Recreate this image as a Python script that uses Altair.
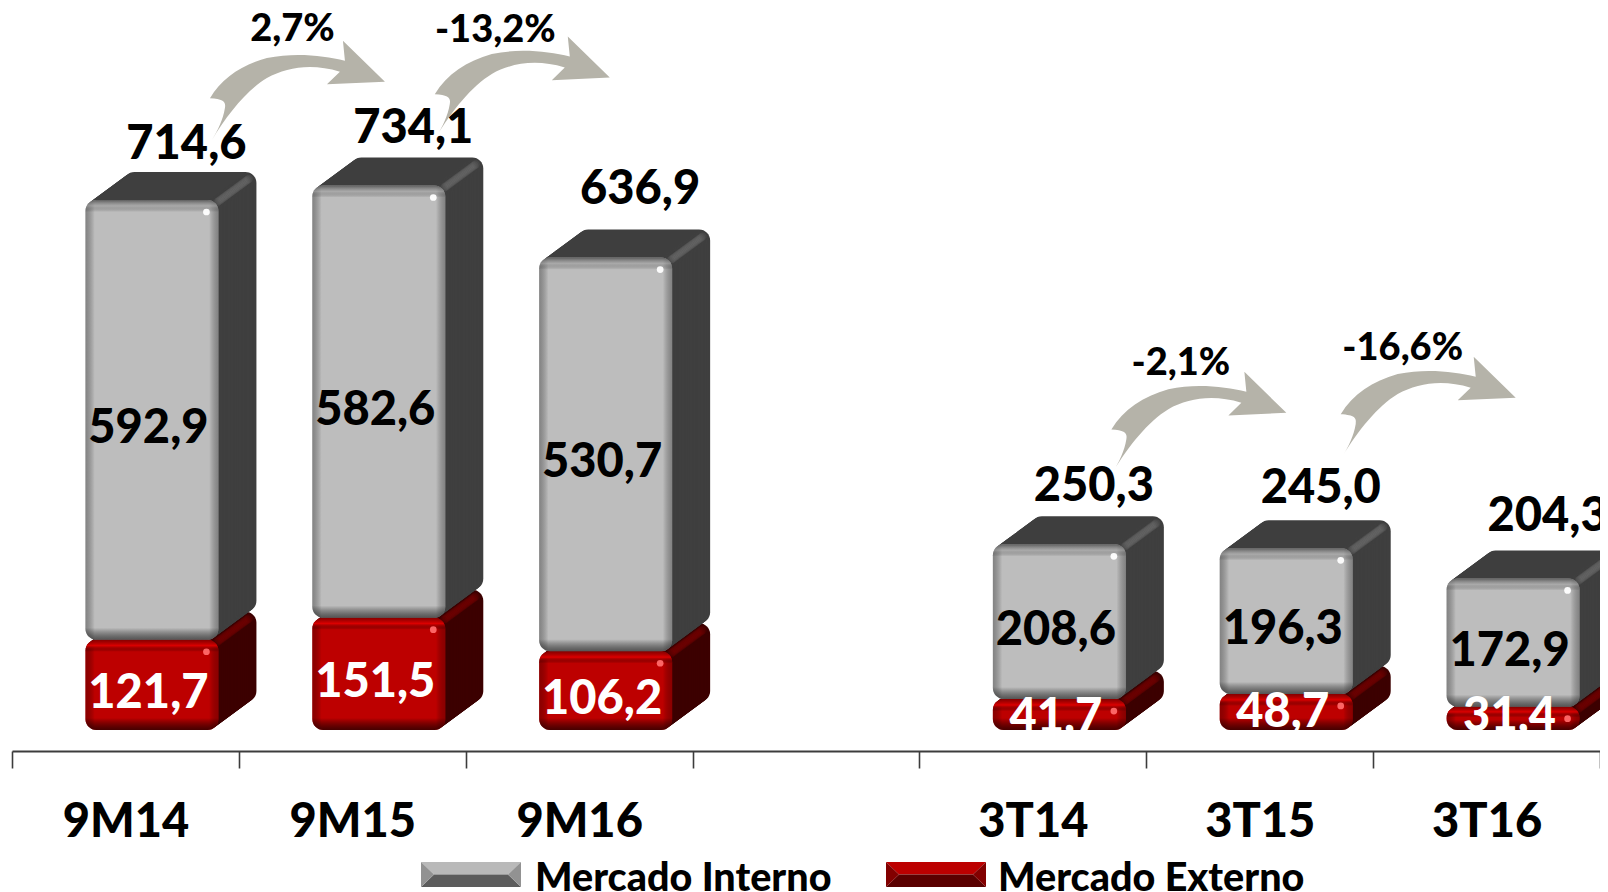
import altair as alt
import pandas as pd

# ---- values ----
categories = ["9M14", "9M15", "9M16", " ", "3T14", "3T15", "3T16"]
bar_cats = ["9M14", "9M15", "9M16", "3T14", "3T15", "3T16"]
externo = [121.7, 151.5, 106.2, 41.7, 48.7, 31.4]
interno = [592.9, 582.6, 530.7, 208.6, 196.3, 172.9]
totals = [714.6, 734.1, 636.9, 250.3, 245.0, 204.3]
total_text = ["714,6", "734,1", "636,9", "250,3", "245,0", "204,3"]
interno_text = ["592,9", "582,6", "530,7", "208,6", "196,3", "172,9"]
externo_text = ["121,7", "151,5", "106,2", "41,7", "48,7", "31,4"]
# heights (in chart units) at which the labels sit
total_label_at = [793, 815, 732, 331, 329, 291]
externo_label_at = [53, 68, 45, 20, 27, 22]
arrow_from = ["9M14", "9M15", "3T14", "3T15"]
arrow_at = [795.5, 801, 349, 369.4]
arrow_text = ["2,7%", "-13,2%", "-2,1%", "-16,6%"]
arrow_text_at = [946, 945, 496, 516]
arrow_shift = [86.5, 84.5, 80.5, 83]
arrow_text_shift = [167, 143, 148, 143]
series = ["Mercado Interno", "Mercado Externo"]

FONT = "Lato"
H = 743
W = 1588
UNIT = 0.7417          # px per unit
BAR_W = 133
SHIFT = 26.5           # bar centre relative to band centre
DEPTH_X, DEPTH_Y = 38, 28
RAD = 11

rows = pd.DataFrame({
    "cat": bar_cats, "ext_top": externo, "int": interno, "tot": totals,
    "t_tot": total_text, "t_int": interno_text, "t_ext": externo_text,
    "tot_at": total_label_at, "ext_at": externo_label_at,
})
rows["int_mid"] = rows["ext_top"] + rows["int"] / 2
rows["base"] = 0.0
long_rows = pd.concat([
    pd.DataFrame({"cat": bar_cats, "serie": series[1], "lo": [0.0] * 6, "hi": externo}),
    pd.DataFrame({"cat": bar_cats, "serie": series[0], "lo": externo, "hi": totals}),
])

x = alt.X("cat:N",
          sort=categories,
          scale=alt.Scale(domain=categories, paddingInner=0, paddingOuter=0),
          axis=alt.Axis(title=None, labelAngle=0, labelFont=FONT, labelFontWeight=900,
                        labelFontSize=47, labelColor="#000", labelPadding=31, tickBand="extent",
                        tickSize=17, tickWidth=1.6, tickColor="#3c3c3c", domainColor="#3c3c3c",
                        domainWidth=2.2, grid=False, labelLimit=300))
y_scale = alt.Scale(domain=[(730 - 751) / UNIT, (730 - 8) / UNIT], nice=False, zero=False)
Y = lambda f: alt.Y(f + ":Q", scale=y_scale, axis=None)

base = alt.Chart(rows)
layers = []

# extruded side / top faces, far to near
def extrude(lo, hi, color, ridge):
    out = []
    for k in range(DEPTH_Y, 0, -1):
        dx = k * DEPTH_X / DEPTH_Y
        out.append(base.mark_bar(width=BAR_W, cornerRadius=RAD, color=color,
                                 xOffset=SHIFT + dx, yOffset=-k, y2Offset=-k)
                   .encode(x=x, y=Y(hi), y2=alt.Y2(lo)))
    for k in range(DEPTH_Y - 2, 2, -1):
        dx = k * DEPTH_X / DEPTH_Y
        out.append(base.mark_point(filled=True, shape="circle", size=70, color=ridge, opacity=0.16,
                                   xOffset=SHIFT + BAR_W / 2 + dx - 5, yOffset=-k + 5)
                   .encode(x=x, y=Y(hi)))
    return out

layers += extrude("base", "ext_top", "#3c0000", "#8c0000")
layers += extrude("ext_top", "tot", "#3f3f3f", "#7c7c7c")

# front faces with the legend colours
front = alt.Chart(long_rows).mark_bar(width=BAR_W, cornerRadius=RAD, xOffset=SHIFT).encode(
    x=x, y=Y("hi"), y2=alt.Y2("lo"),
    color=alt.Color("serie:N",
                    scale=alt.Scale(domain=series, range=["#bdbdbd", "#bd0000"]),
                    legend=alt.Legend(title=None, orient="none", legendX=409, legendY=821,
                                      direction="horizontal", columns=2,
                                      symbolType="M-1,-0.25H1V0.25H-1Z", symbolSize=10000,
                                      symbolStrokeWidth=0, labelFont=FONT, labelFontWeight=900,
                                      labelFontSize=39.5, labelColor="#000", labelOffset=14,
                                      columnPadding=52, labelLimit=500, symbolOpacity=0)))
layers.append(front)

# bevels
def hgrad(edge, mid="rgba(0,0,0,0)"):
    return alt.Gradient(gradient="linear", x1=0, x2=1, y1=0, y2=0, stops=[
        alt.GradientStop(color=edge, offset=0), alt.GradientStop(color=mid, offset=0.07),
        alt.GradientStop(color=mid, offset=0.93), alt.GradientStop(color=edge, offset=1)])

def vgrad(h, top, bottom, mid="rgba(0,0,0,0)", light=None):
    t = min(0.45, 12 / h)
    stops = [alt.GradientStop(color=top, offset=0)]
    if light:
        stops.append(alt.GradientStop(color=light, offset=t * 0.5))
    stops += [alt.GradientStop(color=mid, offset=t), alt.GradientStop(color=mid, offset=1 - t),
              alt.GradientStop(color=bottom, offset=1)]
    return alt.Gradient(gradient="linear", x1=0, x2=0, y1=0, y2=1, stops=stops)

for i, c in enumerate(bar_cats):
    one = alt.Chart(rows[rows["cat"] == c])
    for lo, hi, val, top, bottom, edge, light in [
        ("base", "ext_top", externo[i], "rgba(110,0,0,0.7)", "rgba(50,0,0,0.85)", "rgba(90,0,0,0.5)", "rgba(225,0,0,0.9)"),
        ("ext_top", "tot", interno[i], "rgba(70,70,70,0.8)", "rgba(50,50,50,0.75)", "rgba(60,60,60,0.45)", "rgba(150,150,150,0.5)"),
    ]:
        h = val * UNIT
        layers.append(one.mark_bar(width=BAR_W, cornerRadius=RAD, xOffset=SHIFT, fill=hgrad(edge)).encode(x=x, y=Y(hi), y2=alt.Y2(lo)))
        layers.append(one.mark_bar(width=BAR_W, cornerRadius=RAD, xOffset=SHIFT, fill=vgrad(h, top, bottom, light=light)).encode(x=x, y=Y(hi), y2=alt.Y2(lo)))

# highlights
layers.append(base.mark_point(filled=True, shape="circle", size=45, color="#ffffff", opacity=0.95,
                              xOffset=SHIFT + BAR_W / 2 - 12, yOffset=12).encode(x=x, y=Y("tot")))
layers.append(base.mark_point(filled=True, shape="circle", size=45, color="#ff6a6a", opacity=0.95,
                              xOffset=SHIFT + BAR_W / 2 - 12, yOffset=12).encode(x=x, y=Y("ext_top")))

# value labels
txt = dict(font=FONT, fontWeight=900, fontSize=47, baseline="middle", align="center")
layers.append(base.mark_text(color="#000", dx=61, dy=3, **txt).encode(x=x, y=Y("tot_at"), text="t_tot:N"))
layers.append(base.mark_text(color="#000", dx=23, dy=9, **txt).encode(x=x, y=Y("int_mid"), text="t_int:N"))
layers.append(base.mark_text(color="#fff", dx=23, dy=3, **txt).encode(x=x, y=Y("ext_at"), text="t_ext:N"))

# curved growth arrows and their percentages
ARROW = ("M0,0 C6,-10 11,-20 13,-32 C14,-38 12,-41 -2,-41.7 C10,-62 30,-75 55,-82 "
         "C85,-88 112,-84 133,-79.3 L131,-99.3 L173,-58.3 L115,-55.7 L128,-68.3 "
         "C100,-77 75,-73 55,-62 C35,-50 15,-25 0,0Z")
for c, at, label, label_at, sh, tsh in zip(arrow_from, arrow_at, arrow_text, arrow_text_at, arrow_shift, arrow_text_shift):
    d = alt.Chart(pd.DataFrame({"cat": [c], "at": [at], "label": [label], "label_at": [label_at]}))
    layers.append(d.mark_point(shape=ARROW, size=4, filled=True, color="#b5b3a9", opacity=1, xOffset=sh)
                  .encode(x=x, y=Y("at")))
    layers.append(d.mark_text(font=FONT, fontWeight=900, fontSize=38, baseline="middle", align="center",
                              color="#000", dx=tsh, dy=2).encode(x=x, y=Y("label_at"), text="label:N"))

# bevelled look of the two legend swatches, under the legend's see-through symbols
ONE = alt.Chart(pd.DataFrame({"a": [0]}))
TOP = "M0,0H100L87,12.5H13Z"
BOTTOM = "M0,25H100L87,12.5H13Z"
SIDES = "M0,0L13,12.5L0,25ZM100,0L87,12.5L100,25Z"
for sx, faces in [(409, [(TOP, "#b9b9b9"), (BOTTOM, "#5c5c5c"), (SIDES, "#929292")]),
                  (874, [(TOP, "#bc0000"), (BOTTOM, "#5a0000"), (SIDES, "#820000")])]:
    for path, col in faces:
        layers.append(ONE.mark_point(shape=path, size=4, filled=True, color=col, opacity=1)
                      .encode(x=alt.value(sx), y=alt.value(854)))

chart = alt.layer(*layers).properties(
    width=W, height=H,
    padding={"left": 4, "top": 0, "right": 0, "bottom": 141},
    autosize=alt.AutoSizeParams(type="none"),
    background="#ffffff",
).configure_view(stroke=None)

chart.save("out.html", embed_options={"renderer": "svg", "actions": False})
